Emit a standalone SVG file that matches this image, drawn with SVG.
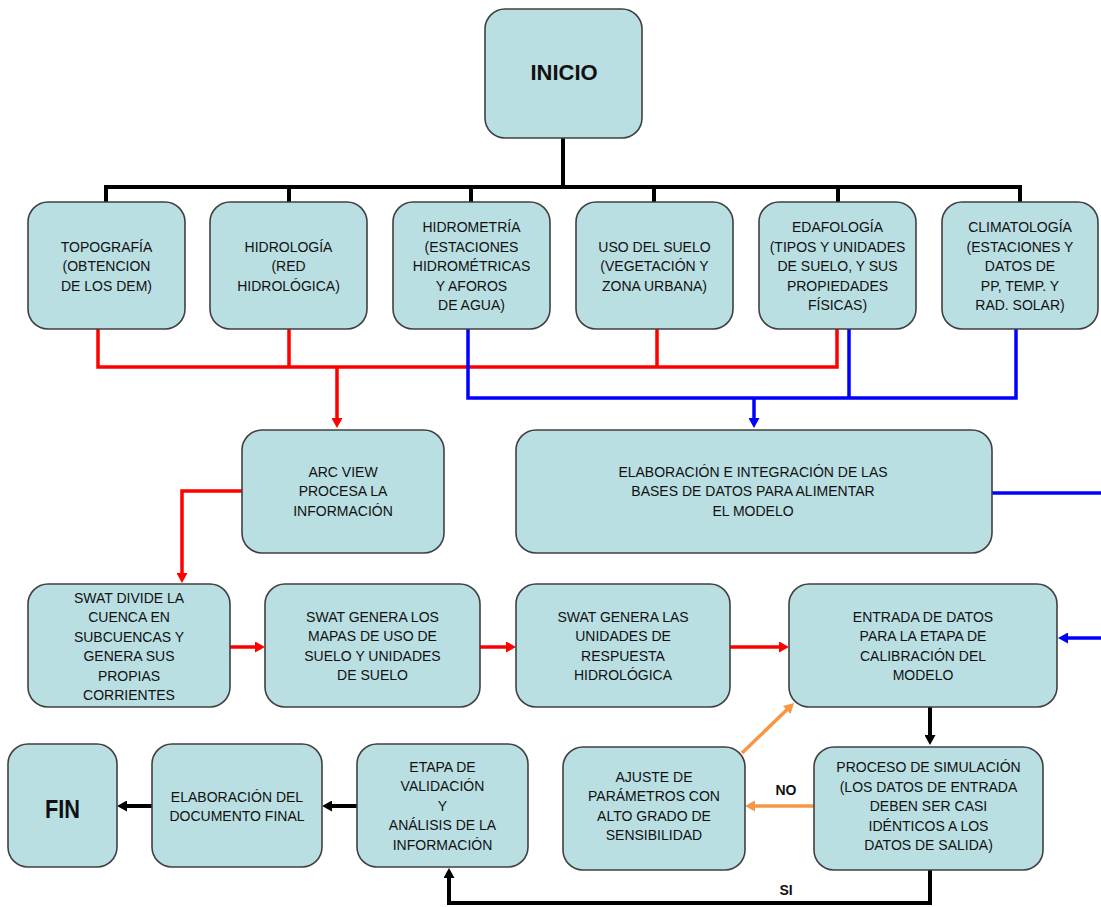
<svg xmlns="http://www.w3.org/2000/svg" width="1101" height="907" viewBox="0 0 1101 907">
<style>
.box{fill:#B9DFE3;stroke:#404040;stroke-width:1.6}
.t{font-family:"Liberation Sans",Arial,sans-serif;font-size:14px;fill:#111;text-anchor:middle}
.b{font-family:"Liberation Sans",Arial,sans-serif;font-weight:bold;fill:#111;text-anchor:middle}
.k{fill:none;stroke:#000;stroke-width:4}
.r{fill:none;stroke:#FF0000;stroke-width:3.5}
.u{fill:none;stroke:#0000FF;stroke-width:3.5}
.o{fill:none;stroke:#F79646;stroke-width:3.5}
</style>
<defs>
<marker id="ak" markerUnits="userSpaceOnUse" markerWidth="10" markerHeight="11" refX="2" refY="5.5" orient="auto"><path d="M0,0 L10,5.5 L0,11 z" fill="#000"/></marker>
<marker id="ar" markerUnits="userSpaceOnUse" markerWidth="10" markerHeight="11" refX="2" refY="5.5" orient="auto"><path d="M0,0 L10,5.5 L0,11 z" fill="#FF0000"/></marker>
<marker id="au" markerUnits="userSpaceOnUse" markerWidth="10" markerHeight="11" refX="2" refY="5.5" orient="auto"><path d="M0,0 L10,5.5 L0,11 z" fill="#0000FF"/></marker>
<marker id="ao" markerUnits="userSpaceOnUse" markerWidth="10" markerHeight="11" refX="2" refY="5.5" orient="auto"><path d="M0,0 L10,5.5 L0,11 z" fill="#F79646"/></marker>
</defs>

<g id="connectors">
<path class="k" d="M563,138 V187 M104,187 H1022 M106,187 V202 M289,187 V202 M471,187 V202 M654,187 V202 M838,187 V202 M1020,187 V202"/>
<path class="r" d="M98,329 V367 H837 V329 M289,329 V367 M657,329 V367"/>
<path class="r" d="M337,367 V420" marker-end="url(#ar)"/>
<path class="u" d="M468,329 V398 H1016 V329 M849,329 V398"/>
<path class="u" d="M754,398 V420" marker-end="url(#au)"/>
<path class="r" d="M242,491 H182 V575" marker-end="url(#ar)"/>
<path class="u" d="M992,493 H1101"/>
<path class="r" d="M230,647 H257" marker-end="url(#ar)"/>
<path class="r" d="M480,647 H508" marker-end="url(#ar)"/>
<path class="r" d="M730,647 H781" marker-end="url(#ar)"/>
<path class="u" d="M1101,638 H1066" marker-end="url(#au)"/>
<path class="k" d="M930,707 V737" marker-end="url(#ak)"/>
<path class="o" d="M814,806 H753" marker-end="url(#ao)"/>
<path class="o" d="M742,753 L788.2,708.6" marker-end="url(#ao)"/>
<path class="k" d="M930,870 V903 H449 V876" marker-end="url(#ak)"/>
<path class="k" d="M357,806 H330" marker-end="url(#ak)"/>
<path class="k" d="M152,806 H125" marker-end="url(#ak)"/>
<text class="b" x="786" y="795" font-size="14">NO</text>
<text class="b" x="786" y="895" font-size="14">SI</text>
</g>

<g id="inicio">
<rect class="box" x="485" y="9" width="157" height="129" rx="20"/>
<text class="b" x="564" y="80" font-size="22">INICIO</text>
</g>

<g id="topografia">
<rect class="box" x="28" y="202" width="157" height="127" rx="20"/>
<text class="t"><tspan x="106.5" y="251.5">TOPOGRAFÍA</tspan><tspan x="106.5" dy="19.5">(OBTENCION</tspan><tspan x="106.5" dy="19.5">DE LOS DEM)</tspan></text>
</g>

<g id="hidrologia">
<rect class="box" x="210" y="202" width="157" height="127" rx="20"/>
<text class="t"><tspan x="288.5" y="251.5">HIDROLOGÍA</tspan><tspan x="288.5" dy="19.5">(RED</tspan><tspan x="288.5" dy="19.5">HIDROLÓGICA)</tspan></text>
</g>

<g id="hidrometria">
<rect class="box" x="393" y="202" width="157" height="127" rx="20"/>
<text class="t"><tspan x="471.5" y="232">HIDROMETRÍA</tspan><tspan x="471.5" dy="19.5">(ESTACIONES</tspan><tspan x="471.5" dy="19.5">HIDROMÉTRICAS</tspan><tspan x="471.5" dy="19.5">Y AFOROS</tspan><tspan x="471.5" dy="19.5">DE AGUA)</tspan></text>
</g>

<g id="uso-suelo">
<rect class="box" x="576" y="202" width="157" height="127" rx="20"/>
<text class="t"><tspan x="654.5" y="251.5">USO DEL SUELO</tspan><tspan x="654.5" dy="19.5">(VEGETACIÓN Y</tspan><tspan x="654.5" dy="19.5">ZONA URBANA)</tspan></text>
</g>

<g id="edafologia">
<rect class="box" x="759" y="202" width="157" height="127" rx="20"/>
<text class="t"><tspan x="837.5" y="232">EDAFOLOGÍA</tspan><tspan x="837.5" dy="19.5">(TIPOS Y UNIDADES</tspan><tspan x="837.5" dy="19.5">DE SUELO, Y SUS</tspan><tspan x="837.5" dy="19.5">PROPIEDADES</tspan><tspan x="837.5" dy="19.5">FÍSICAS)</tspan></text>
</g>

<g id="climatologia">
<rect class="box" x="942" y="202" width="156" height="127" rx="20"/>
<text class="t"><tspan x="1020" y="232">CLIMATOLOGÍA</tspan><tspan x="1020" dy="19.5">(ESTACIONES Y</tspan><tspan x="1020" dy="19.5">DATOS DE</tspan><tspan x="1020" dy="19.5">PP, TEMP. Y</tspan><tspan x="1020" dy="19.5">RAD. SOLAR)</tspan></text>
</g>

<g id="arcview">
<rect class="box" x="242" y="430" width="202" height="123" rx="20"/>
<text class="t"><tspan x="343" y="476.5">ARC VIEW</tspan><tspan x="343" dy="19.5">PROCESA LA</tspan><tspan x="343" dy="19.5">INFORMACIÓN</tspan></text>
</g>

<g id="elaboracion-bd">
<rect class="box" x="516" y="430" width="476" height="123" rx="20"/>
<text class="t"><tspan x="753" y="476.5">ELABORACIÓN E INTEGRACIÓN DE LAS</tspan><tspan x="753" dy="19.5">BASES DE DATOS PARA ALIMENTAR</tspan><tspan x="753" dy="19.5">EL MODELO</tspan></text>
</g>

<g id="swat-divide">
<rect class="box" x="28" y="584" width="202" height="123" rx="20"/>
<text class="t"><tspan x="129" y="602.5">SWAT DIVIDE LA</tspan><tspan x="129" dy="19.5">CUENCA EN</tspan><tspan x="129" dy="19.5">SUBCUENCAS Y</tspan><tspan x="129" dy="19.5">GENERA SUS</tspan><tspan x="129" dy="19.5">PROPIAS</tspan><tspan x="129" dy="19.5">CORRIENTES</tspan></text>
</g>

<g id="swat-mapas">
<rect class="box" x="265" y="584" width="215" height="123" rx="20"/>
<text class="t"><tspan x="372.5" y="621.75">SWAT GENERA LOS</tspan><tspan x="372.5" dy="19.5">MAPAS DE USO DE</tspan><tspan x="372.5" dy="19.5">SUELO Y UNIDADES</tspan><tspan x="372.5" dy="19.5">DE SUELO</tspan></text>
</g>

<g id="swat-urh">
<rect class="box" x="516" y="584" width="214" height="123" rx="20"/>
<text class="t"><tspan x="623" y="621.75">SWAT GENERA LAS</tspan><tspan x="623" dy="19.5">UNIDADES DE</tspan><tspan x="623" dy="19.5">RESPUESTA</tspan><tspan x="623" dy="19.5">HIDROLÓGICA</tspan></text>
</g>

<g id="entrada">
<rect class="box" x="789" y="584" width="268" height="123" rx="20"/>
<text class="t"><tspan x="923" y="621.75">ENTRADA DE DATOS</tspan><tspan x="923" dy="19.5">PARA LA ETAPA DE</tspan><tspan x="923" dy="19.5">CALIBRACIÓN DEL</tspan><tspan x="923" dy="19.5">MODELO</tspan></text>
</g>

<g id="proceso">
<rect class="box" x="814" y="747" width="229" height="123" rx="20"/>
<text class="t"><tspan x="928.5" y="772">PROCESO DE SIMULACIÓN</tspan><tspan x="928.5" dy="19.5">(LOS DATOS DE ENTRADA</tspan><tspan x="928.5" dy="19.5">DEBEN SER CASI</tspan><tspan x="928.5" dy="19.5">IDÉNTICOS A LOS</tspan><tspan x="928.5" dy="19.5">DATOS DE SALIDA)</tspan></text>
</g>

<g id="ajuste">
<rect class="box" x="563" y="747" width="182" height="123" rx="20"/>
<text class="t"><tspan x="654" y="781.75">AJUSTE DE</tspan><tspan x="654" dy="19.5">PARÁMETROS CON</tspan><tspan x="654" dy="19.5">ALTO GRADO DE</tspan><tspan x="654" dy="19.5">SENSIBILIDAD</tspan></text>
</g>

<g id="etapa">
<rect class="box" x="357" y="744" width="171" height="123" rx="20"/>
<text class="t"><tspan x="442.5" y="771.5">ETAPA DE</tspan><tspan x="442.5" dy="19.5">VALIDACIÓN</tspan><tspan x="442.5" dy="19.5">Y</tspan><tspan x="442.5" dy="19.5">ANÁLISIS DE LA</tspan><tspan x="442.5" dy="19.5">INFORMACIÓN</tspan></text>
</g>

<g id="documento">
<rect class="box" x="152" y="744" width="170" height="123" rx="20"/>
<text class="t"><tspan x="237" y="801.5">ELABORACIÓN DEL</tspan><tspan x="237" dy="19.5">DOCUMENTO FINAL</tspan></text>
</g>

<g id="fin">
<rect class="box" x="8" y="744" width="109" height="123" rx="20"/>
<text class="b" x="62.5" y="817.5" font-size="25" textLength="35" lengthAdjust="spacingAndGlyphs">FIN</text>
</g>
</svg>
